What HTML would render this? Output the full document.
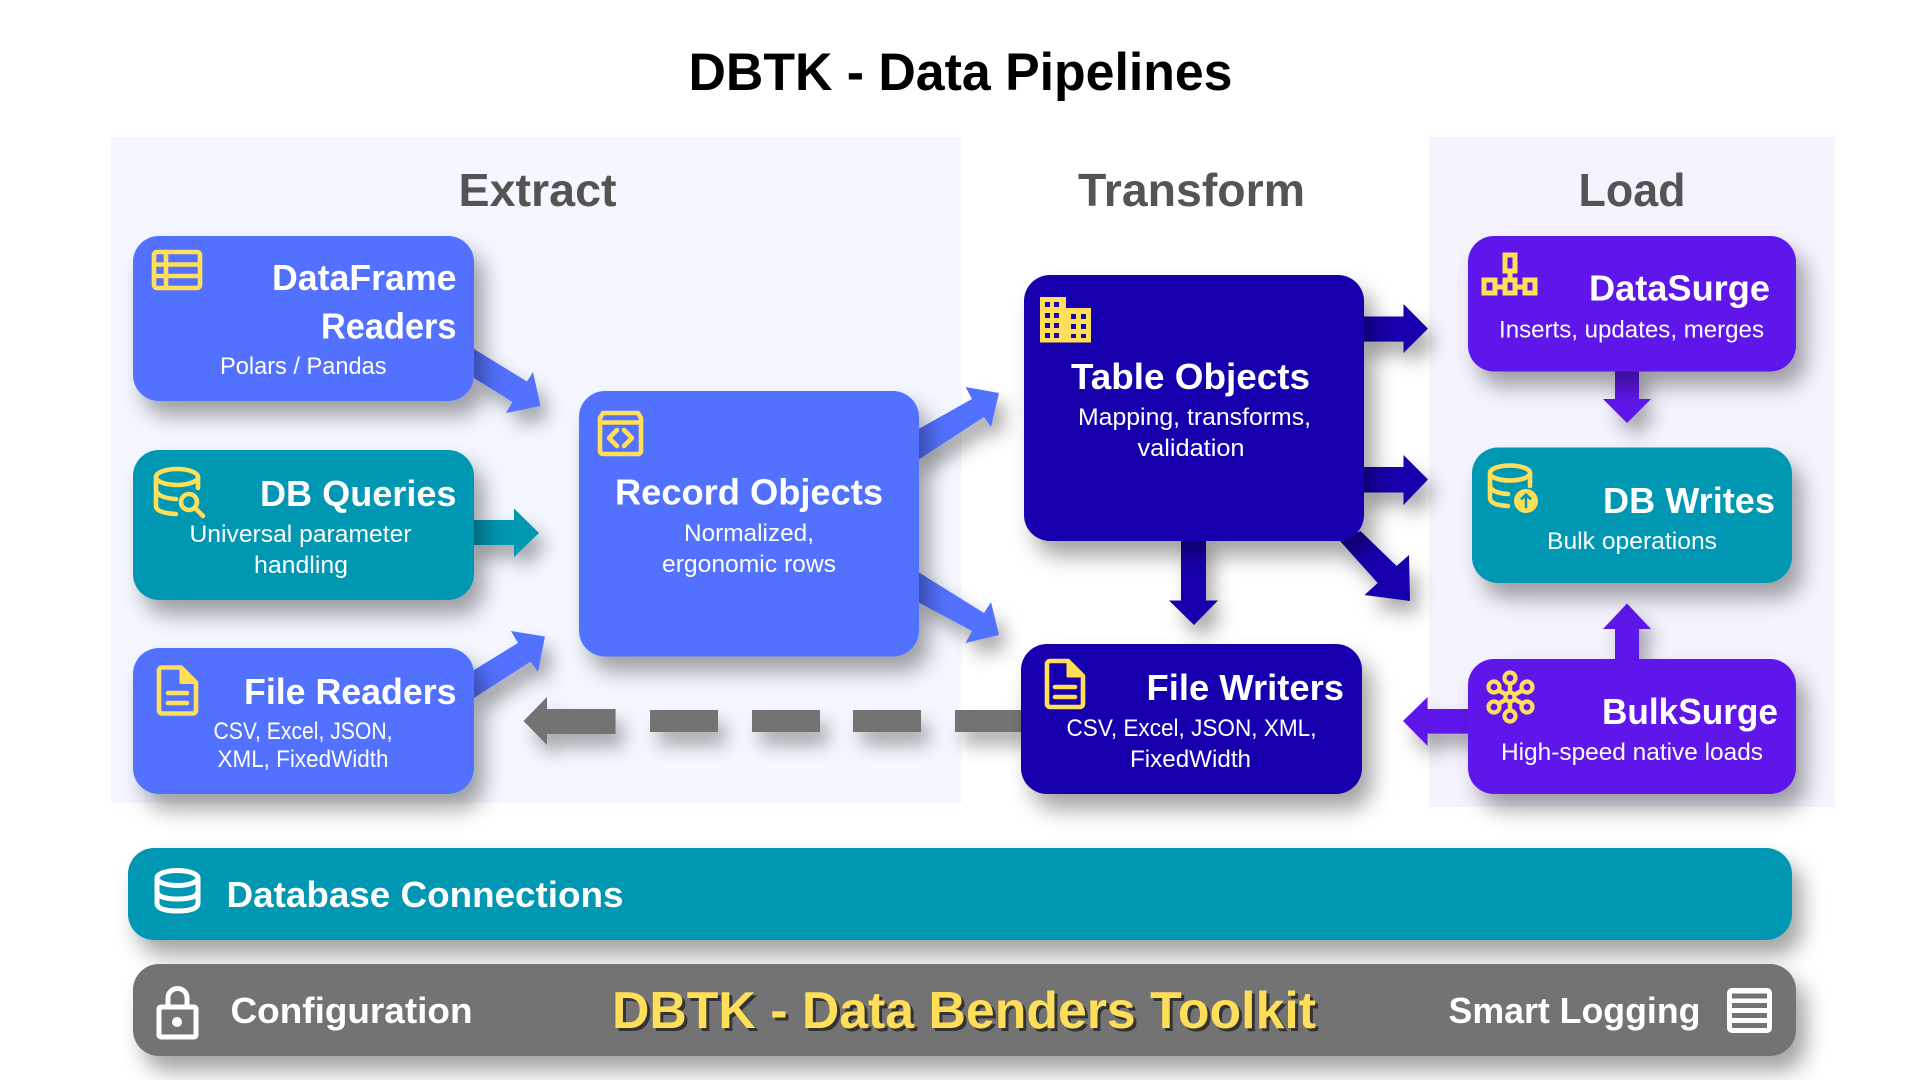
<!DOCTYPE html>
<html lang="en">
<head>
<meta charset="utf-8">
<title>DBTK - Data Pipelines</title>
<style>
html,body{margin:0;padding:0;background:#fff;width:1920px;height:1080px;overflow:hidden}
svg{display:block}
text{font-family:"Liberation Sans",Arial,sans-serif;white-space:pre}
.h{font-weight:700;font-size:36px;fill:#fff}
.s{font-size:24px;fill:#fff}
.sec{font-weight:700;font-size:46px;fill:#545454}
.y{fill:none;stroke:#FFDE59;stroke-width:4.6;stroke-linejoin:round;stroke-linecap:round}
.w{fill:none;stroke:#fff;stroke-width:5;stroke-linejoin:round;stroke-linecap:round}
</style>
</head>
<body>
<svg width="1920" height="1080" viewBox="0 0 1920 1080" xmlns="http://www.w3.org/2000/svg">
<defs>
<filter id="b" filterUnits="userSpaceOnUse" x="0" y="0" width="1920" height="1080"><feDropShadow dx="10" dy="15" stdDeviation="11" flood-color="#000" flood-opacity=".36"/></filter>
<filter id="a" filterUnits="userSpaceOnUse" x="0" y="0" width="1920" height="1080"><feDropShadow dx="8" dy="13" stdDeviation="9" flood-color="#000" flood-opacity=".33"/></filter>
</defs>
<rect width="1920" height="1080" fill="#fff"/>

<!-- panels -->
<rect x="111" y="137" width="850.5" height="666" fill="#F4F7FF"/>
<rect x="1429" y="137" width="405.500" height="670" fill="#F5F3FE"/>

<!-- title + section headings -->
<text x="688.500" y="90" font-size="53" font-weight="700" fill="#000" textLength="544" lengthAdjust="spacingAndGlyphs">DBTK - Data Pipelines</text>
<text class="sec" x="458.500" y="206" textLength="158" lengthAdjust="spacingAndGlyphs">Extract</text>
<text class="sec" x="1078" y="206" textLength="227" lengthAdjust="spacingAndGlyphs">Transform</text>
<text class="sec" x="1578.500" y="206" textLength="107" lengthAdjust="spacingAndGlyphs">Load</text>

<!-- arrows -->
<g filter="url(#a)"><polygon fill="#5271FF" points="474,349 527,381.5 533,372 540.5,406 506,413 512.5,402 474,378"/></g>
<g filter="url(#a)"><polygon fill="#0097B2" points="470,520 514,520 514,508.5 539,533 514,557 514,545 470,545"/></g>
<g filter="url(#a)"><polygon fill="#5271FF" points="474,670 518,643 511,631 545,636.5 538,672 530.6,661.6 474,698"/></g>
<g filter="url(#a)"><polygon fill="#5271FF" points="915,431 972,399 965.5,387 999,393 991,427 984,417 915,462"/></g>
<g filter="url(#a)"><polygon fill="#5271FF" points="915,570 984,613 991,602 999,635 965.5,643 972,631 915,600.5"/></g>
<g filter="url(#a)"><polygon fill="#1800AD" points="1360,316.5 1403.5,316.5 1403.5,304 1428,328.6 1403.5,353 1403.5,341.6 1360,341.6"/></g>
<g filter="url(#a)"><polygon fill="#1800AD" points="1360,467 1403.5,467 1403.5,455 1428,479.5 1403.5,505 1403.5,492.5 1360,492.5"/></g>
<g filter="url(#a)"><polygon fill="#1800AD" points="1360.5,531 1396.6,566 1409,555 1410,601 1364.5,595 1377.7,583 1340,541"/></g>
<g filter="url(#a)"><polygon fill="#1800AD" points="1181,535 1206,535 1206,600.5 1218,600.5 1194,625 1169,600.5 1181,600.5"/></g>
<g filter="url(#a)"><polygon fill="#5E17EB" points="1615,365 1639,365 1639,399 1651,399 1627,423 1603,399 1615,399"/></g>
<g filter="url(#a)"><polygon fill="#5E17EB" points="1615,665 1639,665 1639,629 1651,629 1627,603.5 1603,629 1615,629"/></g>
<g filter="url(#a)"><polygon fill="#5E17EB" points="1475,709 1427.6,709 1427.6,697 1403,721 1427.6,746 1427.6,733.6 1475,733.6"/></g>
<!-- dashed grey -->
<g filter="url(#a)"><polygon fill="#737373" points="523.5,721 547,697 547,709 615.6,709 615.6,734 547,734 547,745"/></g>
<g filter="url(#a)"><rect x="650" y="710" width="68" height="22" fill="#737373"/></g>
<g filter="url(#a)"><rect x="752" y="710" width="68" height="22" fill="#737373"/></g>
<g filter="url(#a)"><rect x="853" y="710" width="68" height="22" fill="#737373"/></g>
<g filter="url(#a)"><rect x="955" y="710" width="70" height="22" fill="#737373"/></g>

<!-- boxes -->
<g filter="url(#b)"><rect x="133" y="236" width="341" height="165" rx="26" fill="#5271FF"/></g>
<g filter="url(#b)"><rect x="133" y="450" width="341" height="150" rx="26" fill="#0097B2"/></g>
<g filter="url(#b)"><rect x="133" y="648" width="341" height="146" rx="26" fill="#5271FF"/></g>
<g filter="url(#b)"><rect x="579" y="391" width="340" height="265.500" rx="26" fill="#5271FF"/></g>
<g filter="url(#b)"><rect x="1024" y="275" width="340" height="266" rx="26" fill="#1800AD"/></g>
<g filter="url(#b)"><rect x="1021" y="644" width="341" height="150" rx="26" fill="#1800AD"/></g>
<g filter="url(#b)"><rect x="1468" y="236" width="328" height="135.5" rx="26" fill="#5E17EB"/></g>
<g filter="url(#b)"><rect x="1472" y="447.500" width="320" height="135.500" rx="26" fill="#0097B2"/></g>
<g filter="url(#b)"><rect x="1468" y="659" width="328" height="135" rx="26" fill="#5E17EB"/></g>
<g filter="url(#b)"><rect x="128" y="848" width="1664" height="92" rx="26" fill="#0097B2"/></g>
<g filter="url(#b)"><rect x="133" y="964" width="1663" height="92" rx="26" fill="#737373"/></g>

<!-- box text -->
<text class="h" x="272" y="290" textLength="184.500" lengthAdjust="spacingAndGlyphs">DataFrame</text>
<text class="h" x="321" y="338.5" textLength="135.500" lengthAdjust="spacingAndGlyphs">Readers</text>
<text class="s" x="220" y="374" textLength="166.500" lengthAdjust="spacingAndGlyphs">Polars / Pandas</text>

<text class="h" x="260" y="506" textLength="196.500" lengthAdjust="spacingAndGlyphs">DB Queries</text>
<text class="s" x="189.500" y="542" textLength="222" lengthAdjust="spacingAndGlyphs">Universal parameter</text>
<text class="s" x="254" y="573" textLength="94" lengthAdjust="spacingAndGlyphs">handling</text>

<text class="h" x="244" y="704" textLength="212.500" lengthAdjust="spacingAndGlyphs">File Readers</text>
<text class="s" x="213.500" y="739" textLength="179" lengthAdjust="spacingAndGlyphs">CSV, Excel, JSON,</text>
<text class="s" x="217.500" y="767" textLength="171" lengthAdjust="spacingAndGlyphs">XML, FixedWidth</text>

<text class="h" x="615" y="504.5" textLength="268" lengthAdjust="spacingAndGlyphs">Record Objects</text>
<text class="s" x="684" y="541" textLength="130" lengthAdjust="spacingAndGlyphs">Normalized,</text>
<text class="s" x="662" y="572" textLength="174" lengthAdjust="spacingAndGlyphs">ergonomic rows</text>

<text class="h" x="1071" y="389" textLength="239" lengthAdjust="spacingAndGlyphs">Table Objects</text>
<text class="s" x="1078" y="425" textLength="233" lengthAdjust="spacingAndGlyphs">Mapping, transforms,</text>
<text class="s" x="1137.500" y="456" textLength="107" lengthAdjust="spacingAndGlyphs">validation</text>

<text class="h" x="1146.500" y="700" textLength="197.500" lengthAdjust="spacingAndGlyphs">File Writers</text>
<text class="s" x="1066.500" y="736" textLength="250" lengthAdjust="spacingAndGlyphs">CSV, Excel, JSON, XML,</text>
<text class="s" x="1130" y="767" textLength="121" lengthAdjust="spacingAndGlyphs">FixedWidth</text>

<text class="h" x="1589" y="300.5" textLength="181" lengthAdjust="spacingAndGlyphs">DataSurge</text>
<text class="s" x="1499" y="337.500" textLength="265" lengthAdjust="spacingAndGlyphs">Inserts, updates, merges</text>

<text class="h" x="1603" y="513" textLength="172" lengthAdjust="spacingAndGlyphs">DB Writes</text>
<text class="s" x="1547" y="549" textLength="170" lengthAdjust="spacingAndGlyphs">Bulk operations</text>

<text class="h" x="1602" y="724" textLength="176" lengthAdjust="spacingAndGlyphs">BulkSurge</text>
<text class="s" x="1501" y="760" textLength="262" lengthAdjust="spacingAndGlyphs">High-speed native loads</text>

<text class="h" x="226.500" y="907" textLength="397" lengthAdjust="spacingAndGlyphs">Database Connections</text>
<text class="h" x="230.500" y="1023" textLength="242" lengthAdjust="spacingAndGlyphs">Configuration</text>
<text class="h" x="1448.500" y="1023" textLength="252" lengthAdjust="spacingAndGlyphs">Smart Logging</text>
<text x="615" y="1031" font-size="52" font-weight="700" fill="#333" textLength="704" lengthAdjust="spacingAndGlyphs">DBTK - Data Benders Toolkit</text>
<text x="612" y="1028" font-size="52" font-weight="700" fill="#FFDE59" textLength="704" lengthAdjust="spacingAndGlyphs">DBTK - Data Benders Toolkit</text>

<!-- icons -->
<!-- table -->
<rect class="y" x="154" y="252" width="46" height="36" rx="3"/>
<path class="y" d="M154 264.500H200M154 276H200M166 252V288"/>
<!-- record -->
<path class="y" d="M600 418l3-5h35l3 5v33a3 3 0 0 1-3 3h-35a3 3 0 0 1-3-3zM600 422.500H641"/>
<path class="y" d="M617 430l-8 8 8 8M624 430l8 8-8 8"/>
<!-- db search -->
<ellipse class="y" cx="177" cy="477" rx="21" ry="8"/>
<path class="y" d="M156 477V506q0 7 20 8M156 490q2 8 20 9M198 477V488"/>
<circle cx="189" cy="502" r="11" fill="#0097B2" stroke="none"/>
<circle class="y" cx="189" cy="502" r="8"/>
<path class="y" d="M195 508l8 8"/>
<!-- file readers -->
<path class="y" d="M162 667.500h19l15 15v28a3 3 0 0 1-3 3h-31a3 3 0 0 1-3-3v-40a3 3 0 0 1 3-3z"/>
<path d="M181 667.500l15 15h-15z" fill="#FFDE59" stroke="#FFDE59" stroke-width="3" stroke-linejoin="round"/>
<path class="y" d="M168 693H187M168 703H187"/>
<!-- file writers -->
<path class="y" d="M1050 661h18l15 15v28a3 3 0 0 1-3 3h-30a3 3 0 0 1-3-3v-40a3 3 0 0 1 3-3z"/>
<path d="M1068 661l15 15h-15z" fill="#FFDE59" stroke="#FFDE59" stroke-width="3" stroke-linejoin="round"/>
<path class="y" d="M1055 687H1075M1055 697H1075"/>
<!-- building -->
<path d="M1040 297h26v11h25v34.500h-51z" fill="#FFDE59"/>
<g fill="#1800AD">
<rect x="1045" y="302" width="5" height="5"/><rect x="1054" y="302" width="5" height="5"/>
<rect x="1045" y="313" width="5" height="5"/><rect x="1054" y="313" width="5" height="5"/>
<rect x="1045" y="323" width="5" height="5"/><rect x="1054" y="323" width="5" height="5"/>
<rect x="1045" y="333" width="5" height="5"/><rect x="1054" y="333" width="5" height="5"/>
<rect x="1071" y="314" width="5" height="5"/><rect x="1081" y="314" width="5" height="5"/>
<rect x="1071" y="324" width="5" height="5"/><rect x="1081" y="324" width="5" height="5"/>
<rect x="1071" y="334" width="5" height="4"/><rect x="1081" y="334" width="5" height="4"/>
</g>
<!-- org -->
<g fill="none" stroke="#FFDE59" stroke-width="5">
<rect x="1505" y="255" width="10" height="16"/>
<rect x="1484" y="280" width="11" height="13"/>
<rect x="1505" y="280" width="10" height="13"/>
<rect x="1525" y="280" width="10" height="13"/>
<path d="M1510 271V280M1495 287H1505M1515 287H1525"/>
</g>
<!-- db writes -->
<ellipse class="y" cx="1510" cy="473" rx="20" ry="7.500"/>
<path class="y" d="M1490 473V498q0 7 18 8M1490 486q2 7 18 8M1530 473V486"/>
<circle cx="1526" cy="501" r="12" fill="#FFDE59"/>
<path d="M1526 508V495M1521 499.500l5-5 5 5" fill="none" stroke="#0097B2" stroke-width="2.500"/>
<!-- bulk -->
<g fill="none" stroke="#FFDE59" stroke-width="4.200">
<path d="M1510 683V711M1498 690L1523 704M1498 704L1523 690" stroke-width="4.500"/>
<circle cx="1510" cy="678" r="5.500" fill="#5E17EB"/>
<circle cx="1510" cy="716" r="5.500" fill="#5E17EB"/>
<circle cx="1494" cy="687" r="5.500" fill="#5E17EB"/>
<circle cx="1527" cy="687" r="5.500" fill="#5E17EB"/>
<circle cx="1494" cy="707" r="5.500" fill="#5E17EB"/>
<circle cx="1527" cy="707" r="5.500" fill="#5E17EB"/>
<circle cx="1510" cy="697" r="4.500" fill="#5E17EB"/>
</g>
<!-- db conn -->
<ellipse class="w" cx="177.500" cy="878" rx="20.500" ry="7.500"/>
<path class="w" d="M157 878V903q0 8 20.500 8t20.500-8V878M157 891q0 8 20.500 8t20.500-8"/>
<!-- lock -->
<rect class="w" x="159" y="1007" width="37" height="30" rx="2"/>
<path class="w" d="M168 1007V998a9.500 9.500 0 0 1 19 0V1007"/>
<circle cx="177" cy="1022" r="5" fill="#fff"/>
<!-- log -->
<rect x="1727" y="988" width="45" height="45" rx="5" fill="#fff"/>
<g fill="#737373"><rect x="1732" y="993.500" width="35" height="5"/><rect x="1732" y="1003" width="35" height="5"/><rect x="1732" y="1013" width="35" height="5"/><rect x="1732" y="1023" width="35" height="5"/></g>
</svg>
</body>
</html>
